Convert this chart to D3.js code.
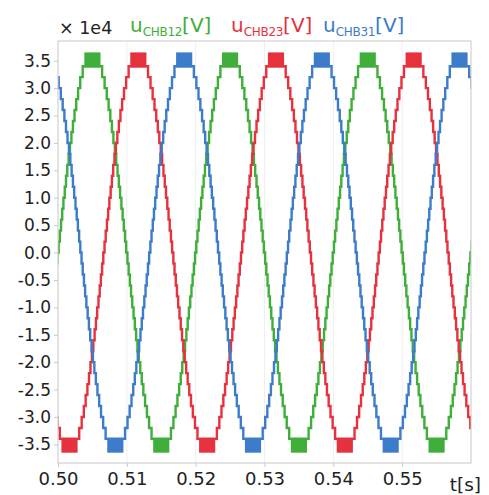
<!DOCTYPE html>
<html>
<head>
<meta charset="utf-8">
<script src="https://cdn.jsdelivr.net/npm/d3@7"></script>
<style>
  body { margin: 0; background: #fff; }
  text { font-family: "DejaVu Sans", Verdana, sans-serif; }
</style>
</head>
<body>
<div id="chart"></div>
<script>
// values in 1e4 V, time in s
const seriesNames = ["CHB12", "CHB23", "CHB31"];
const seriesColors = ["#3fae3a", "#e5323e", "#3c7cc9"];
const zeroCrossings = [0.50, 0.50667, 0.51333]; // rising zero crossing of each phase
const halfPeriodMs = 10;
// staircase levels and the time (ms after zero crossing) where each one switches on
const stepLevels = [0.2, 0.4, 0.6, 0.8, 1.0, 1.2, 1.4, 1.6, 1.8, 2.0, 2.2, 2.4, 2.6, 2.8, 3.0, 3.2, 3.4];
const switchMs = [0.09, 0.26, 0.44, 0.61, 0.79, 0.98, 1.16, 1.35, 1.54, 1.74, 1.95, 2.17, 2.40, 2.65, 2.92, 3.23, 3.59];
// fast switching band at the crest
const pwmBand = [3.4, 3.63];
const pwmMs = [4.0, 6.0];

const xTicks = [0.50, 0.51, 0.52, 0.53, 0.54, 0.55];
const yTicks = [-3.5, -3.0, -2.5, -2.0, -1.5, -1.0, -0.5, 0.0, 0.5, 1.0, 1.5, 2.0, 2.5, 3.0, 3.5];

const width = 489, height = 495;
const margin = {top: 41, right: 18, bottom: 32, left: 58};

const x = d3.scaleLinear().domain([0.50, 0.56]).range([margin.left, width - margin.right]);
const y = d3.scaleLinear().domain([-3.84, 3.86]).range([height - margin.bottom, margin.top]);

// build step points and crest bands for one phase
function buildPhase(t0) {
  const pts = [];
  const bands = [];
  let start = t0 - 4 * halfPeriodMs / 1000;
  let sign = 1;
  while (start < 0.57) {
    pts.push([start, 0]);
    stepLevels.forEach((v, i) => pts.push([start + switchMs[i] / 1000, sign * v]));
    for (let i = stepLevels.length - 1; i >= 0; i--) {
      pts.push([start + (halfPeriodMs - switchMs[i]) / 1000, i === 0 ? 0 : sign * stepLevels[i - 1]]);
    }
    bands.push({t1: start + pwmMs[0] / 1000, t2: start + pwmMs[1] / 1000, sign: sign});
    start += halfPeriodMs / 1000;
    sign = -sign;
  }
  return {pts, bands};
}

const svg = d3.select("#chart").append("svg")
  .attr("width", width)
  .attr("height", height);

svg.append("defs").append("clipPath").attr("id", "clip")
  .append("rect")
  .attr("x", margin.left)
  .attr("y", margin.top)
  .attr("width", width - margin.left - margin.right)
  .attr("height", height - margin.top - margin.bottom);

// grid
svg.append("g").selectAll("line").data(xTicks.slice(1))
  .join("line")
  .attr("x1", d => x(d)).attr("x2", d => x(d))
  .attr("y1", margin.top).attr("y2", height - margin.bottom)
  .attr("stroke", "#efefef");

const plot = svg.append("g").attr("clip-path", "url(#clip)");

const line = d3.line()
  .x(d => x(d[0]))
  .y(d => y(d[1]))
  .curve(d3.curveStepAfter);

zeroCrossings.forEach((t0, i) => {
  const ph = buildPhase(t0);
  plot.append("path")
    .datum(ph.pts)
    .attr("fill", "none")
    .attr("stroke", seriesColors[i])
    .attr("stroke-width", 2.4)
    .attr("d", line);
  plot.selectAll(null).data(ph.bands)
    .join("rect")
    .attr("x", d => x(d.t1))
    .attr("width", d => x(d.t2) - x(d.t1))
    .attr("y", d => d.sign > 0 ? y(pwmBand[1]) : y(-pwmBand[0]))
    .attr("height", y(pwmBand[0]) - y(pwmBand[1]))
    .attr("fill", seriesColors[i])
    .attr("stroke", seriesColors[i])
    .attr("stroke-width", 2.4);
});

// frame
svg.append("rect")
  .attr("x", margin.left).attr("y", margin.top)
  .attr("width", width - margin.left - margin.right)
  .attr("height", height - margin.top - margin.bottom)
  .attr("fill", "none")
  .attr("stroke", "#c8c8c8");

// axes
const yAxis = svg.append("g")
  .attr("transform", `translate(${margin.left},0)`)
  .call(d3.axisLeft(y).tickValues(yTicks).tickSize(4).tickPadding(3).tickFormat(d3.format(".1f")));
yAxis.select(".domain").remove();
yAxis.selectAll("line").attr("stroke", "#c8c8c8");
yAxis.selectAll("text").attr("font-size", 17).attr("fill", "#222")
  .text(d => d3.format(".1f")(d).replace("−", "-"));

const xAxis = svg.append("g")
  .attr("transform", `translate(0,${height - margin.bottom})`)
  .call(d3.axisBottom(x).tickValues(xTicks).tickSize(4).tickPadding(5).tickFormat(d3.format(".2f")));
xAxis.select(".domain").remove();
xAxis.selectAll("line").attr("stroke", "#c8c8c8");
xAxis.selectAll("text").attr("font-size", 18).attr("fill", "#222");

svg.append("text")
  .attr("x", 481).attr("y", 491)
  .attr("text-anchor", "end")
  .attr("font-size", 18.5).attr("fill", "#222")
  .text("t[s]");

svg.append("text")
  .attr("x", 59).attr("y", 34)
  .attr("font-size", 17.5).attr("fill", "#222")
  .text("× 1e4");

// legend
const legendX = [130, 231, 323];
seriesNames.forEach((n, i) => {
  const t = svg.append("text")
    .attr("x", legendX[i]).attr("y", 32)
    .attr("font-size", 20).attr("fill", seriesColors[i]);
  t.append("tspan").text("u");
  t.append("tspan").attr("dy", 4).attr("font-size", 12).attr("letter-spacing", -0.3).text(n);
  t.append("tspan").attr("dy", -4).text("[V]");
});
</script>
</body>
</html>
